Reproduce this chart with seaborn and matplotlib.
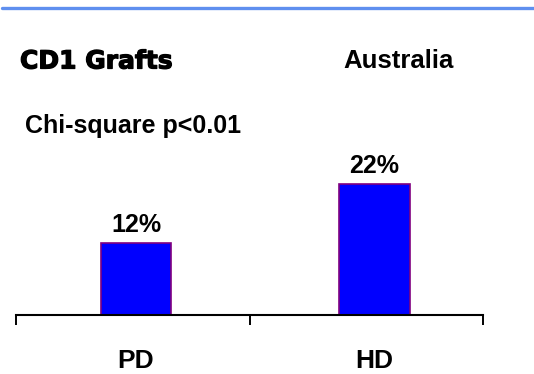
import matplotlib
matplotlib.use("Agg")
import matplotlib.pyplot as plt
import matplotlib.patheffects as pe
from matplotlib.lines import Line2D
import seaborn as sns

# Graft outcome rates by dialysis modality
categories = ["PD", "HD"]
rates = [12, 22]
rate_labels = ["12%", "22%"]
title_left = "CD1 Grafts"
title_right = "Australia"
stat_note = "Chi-square p<0.01"

sns.set_theme(style="white")
plt.rcParams["font.family"] = ["Liberation Sans", "DejaVu Sans"]

W, H = 534, 374
fig = plt.figure(figsize=(W / 100, H / 100), dpi=100)
fig.patch.set_facecolor("white")

# plot area in pixel terms
ax_left, ax_right, ax_bottom = 16, 483, 374 - 314.7
ax = fig.add_axes([ax_left / W, ax_bottom / H, (ax_right - ax_left) / W, 213.8 / H])
ax.set_facecolor("white")

sns.barplot(x=categories, y=rates, ax=ax, width=0.295, color="#0000FF",
            saturation=1, edgecolor="#800080", linewidth=1.2)

x0, x1 = -0.503, 1.455
ax.set_xlim(x0, x1)
ax.set_ylim(0, 36)
ax.set_xticks([x0, 0.478, x1])
ax.set_xticklabels([])
ax.set_yticks([])
ax.set_xlabel("")
ax.set_ylabel("")
for s in ("top", "right", "left"):
    ax.spines[s].set_visible(False)
ax.spines["bottom"].set_linewidth(1.5)
ax.spines["bottom"].set_color("black")
ax.tick_params(axis="x", direction="out", length=7.5, width=1.4, color="black", bottom=True)

# value labels above bars
for i, (v, lab) in enumerate(zip(rates, rate_labels)):
    ax.annotate(lab, xy=(i, v), xytext=(0, 8.3), textcoords="offset points",
                ha="center", va="baseline", fontsize=18, fontweight="bold", color="black")

# category names beneath the axis
for i, c in enumerate(categories):
    ax.annotate(c, xy=(i, 0), xytext=(0, -38.5), textcoords="offset points",
                ha="center", va="baseline", fontsize=19, fontweight="bold", color="black")

# header rule
fig.add_artist(Line2D([2 / W, 1.0], [1 - 8.3 / H, 1 - 8.3 / H], color="#5F8FEF",
                      linewidth=2.4, transform=fig.transFigure))

# heavy display title
fig.text(20 / W, 1 - 68.5 / H, title_left, fontsize=18, fontweight="bold",
         family=["DejaVu Sans"], ha="left", va="baseline", color="black",
         path_effects=[pe.withStroke(linewidth=0.9, foreground="black")])
fig.text(343 / W, 1 - 68 / H, title_right, fontsize=18.5, fontweight="bold",
         ha="left", va="baseline", color="black")
fig.text(25 / W, 1 - 133 / H, stat_note, fontsize=18, fontweight="bold",
         ha="left", va="baseline", color="black")

fig.savefig("out.png", dpi=100, facecolor="white")
